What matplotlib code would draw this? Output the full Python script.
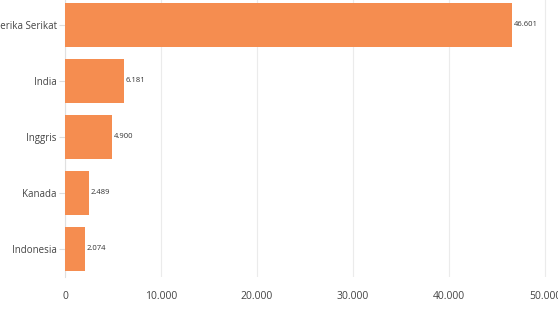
import matplotlib
matplotlib.use("Agg")
import matplotlib.pyplot as plt
from matplotlib.ticker import FuncFormatter

categories = ["Amerika Serikat", "India", "Inggris", "Kanada", "Indonesia"]
values = [46601, 6181, 4900, 2489, 2074]
xticks = [0, 10000, 20000, 30000, 40000, 50000]

def fmt(v):
    return f"{int(v):,}".replace(",", ".")

plt.rcParams['font.family'] = ['Open Sans', 'DejaVu Sans']

fig = plt.figure(figsize=(5.58, 3.12), dpi=100)
ax = fig.add_axes([65/558, 35/312, (558-65)/558, 280/312])

ypos = list(range(len(categories)))
ax.barh(ypos, values, height=0.8, color="#F58D50", zorder=3)
for y, v in zip(ypos, values):
    ax.text(v + 150, y, fmt(v), va="center", ha="left", fontsize=5.5, color="#333333", zorder=4)

ax.set_yticks(ypos)
ax.set_yticklabels(categories)
ax.set_ylim(len(categories) - 0.5, -0.5)
ax.set_xlim(0, 50000 * (558 - 65) / 480)
ax.set_xticks(xticks)
ax.xaxis.set_major_formatter(FuncFormatter(lambda v, p: fmt(v)))

ax.grid(axis="x", color="#ebebeb", linewidth=0.8, zorder=0)
for s in ["top", "right", "bottom"]:
    ax.spines[s].set_visible(False)
ax.spines["left"].set_color("#e0e0e0")
ax.spines["left"].set_linewidth(0.8)

ax.tick_params(axis="y", length=4, color="#dddddd", labelsize=7, labelcolor="#444444", pad=2)
ax.tick_params(axis="x", length=0, labelsize=7.5, labelcolor="#444444", pad=10)

fig.savefig("out.png", dpi=100)
